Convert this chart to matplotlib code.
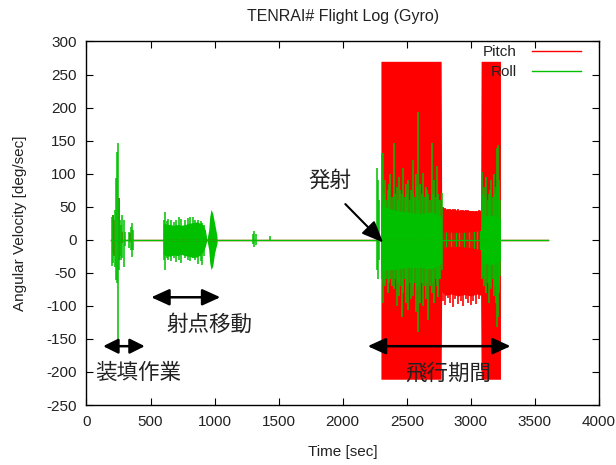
import matplotlib
matplotlib.use("Agg")
import matplotlib.pyplot as plt

plt.rcParams['font.family'] = ['Liberation Sans', 'Noto Sans CJK JP', 'DejaVu Sans']
plt.rcParams['axes.unicode_minus'] = False

RED = '#ff0000'
GREEN = '#00c000'
TXT = '#222222'

# whole log span (sec) - the zero line between the bursts
log_t = [195, 3605]
log_zero = [0, 0]

# ---- Pitch (red) ----
# short spikes: time, high, low
pitch_spike_t = [205, 215, 252, 275, 340,
                 2780, 2800, 2820, 2840, 2860, 2880, 2900, 2920, 2940, 2960, 2980,
                 3000, 3020, 3040, 3060]
pitch_spike_hi = [38, 30, 63, 12, 10,
                  49, 48, 47, 47, 46, 46, 46, 45, 45, 45, 45,
                  44, 44, 44, 45]
pitch_spike_lo = [-20, -25, -30, -5, -3,
                  -92, -99, -88, -96, -101, -90, -97, -93, -100, -89, -95,
                  -98, -92, -97, -90]

# flight envelope
pitch_env_t = [2298, 2400, 2500, 2600, 2700, 2768, 2772, 2800, 2850, 2900,
               2950, 3000, 3050, 3076, 3080, 3150, 3231]
pitch_env_hi = [270, 270, 270, 270, 270, 270, 50, 47, 46, 45,
                45, 44, 44, 45, 270, 270, 270]
pitch_env_lo = [-211, -211, -211, -211, -211, -211, -78, -84, -82, -85,
                -83, -85, -82, -84, -211, -211, -211]

# ---- Roll (green) ----
roll_spike_t = [200, 210, 220, 230, 238, 244, 250, 258, 268, 278, 290, 300, 330, 345, 356, 365,
                605, 613, 628, 640, 660, 685, 700, 720, 740, 765, 790, 810, 830, 850, 870, 890, 900, 915,
                1300, 1310, 1320, 1430,
                2267, 2272, 2280, 2305, 2313, 2322, 2330, 2340, 2350, 2360, 2370, 2385, 2402, 2410,
                2420, 2430, 2440, 2450, 2461, 2474, 2485, 2495, 2505, 2513, 2525, 2535, 2545, 2552,
                2560, 2570, 2578, 2586, 2595, 2605, 2615, 2630, 2640, 2650, 2660, 2669, 2680, 2695,
                2705, 2715, 2725, 2734, 2747, 2755, 2760, 2775,
                3085, 3092, 3100, 3110, 3120, 3130, 3140, 3150, 3160, 3170, 3180, 3188, 3195, 3202,
                3210, 3216, 3222, 3228]
roll_spike_hi = [35, 38, 45, 93, 133, 147, 60, 30, 22, 37, 30, 12, 12, 20, 25, 15,
                 30, 42, 28, 32, 30, 27, 30, 34, 32, 30, 33, 35, 35, 30, 30, 28, 25, 22,
                 8, 13, 8, 5,
                 108, 90, 60, 131, 131, 70, 90, 60, 75, 85, 100, 65, 146, 70,
                 80, 60, 95, 75, 70, 109, 65, 85, 70, 90, 60, 75, 70, 121,
                 65, 100, 80, 194, 60, 85, 70, 101, 65, 80, 75, 70, 60, 146,
                 70, 90, 65, 111, 70, 60, 60, 71,
                 103, 70, 80, 65, 95, 60, 70, 75, 90, 65, 100, 70, 80, 139,
                 143, 80, 90, 60]
roll_spike_lo = [-40, -35, -41, -61, -66, -165, -45, -25, -30, -28, -41, -10, -12, -15, -26, -15,
                 -30, -46, -28, -30, -32, -28, -33, -30, -35, -28, -30, -32, -28, -30, -36, -32, -38, -25,
                 -6, -11, -8, 0,
                 -46, -60, -30, -60, -96, -65, -70, -60, -80, -65, -60, -70, -75, -60,
                 -100, -65, -85, -70, -117, -80, -60, -95, -70, -107, -65, -90, -70, -85,
                 -65, -110, -75, -139, -70, -95, -65, -100, -70, -90, -65, -122, -70, -80,
                 -65, -95, -60, -70, -86, -60, -60, -46,
                 -60, -55, -70, -60, -80, -65, -96, -70, -75, -60, -85, -70, -96, -132,
                 -117, -80, -70, -55]

# pad move cluster (600-1020 sec)
roll_move_t = [598, 620, 650, 680, 710, 740, 770, 800, 830, 860, 890, 910, 928,
               940, 954, 962, 972, 985, 1000, 1019]
roll_move_hi = [25, 24, 23, 22, 23, 22, 23, 25, 26, 27, 25, 22, 15,
                0, 15, 35, 46, 40, 25, 5]
roll_move_lo = [-22, -24, -25, -23, -24, -22, -24, -25, -27, -26, -23, -18, -10,
                0, -15, -35, -45, -40, -20, -5]

# flight cluster
roll_env_t = [2298, 2330, 2400, 2500, 2600, 2700, 2768, 2780, 2900, 3000, 3076,
              3090, 3150, 3231]
roll_env_hi = [55, 50, 45, 42, 40, 42, 35, 12, 11, 12, 14, 35, 38, 32]
roll_env_lo = [-48, -46, -45, -42, -42, -44, -36, -11, -10, -12, -15, -35, -38, -32]

fig = plt.figure(figsize=(6.16, 4.65), dpi=100)
ax = fig.add_axes([0.1404, 0.129, 0.832, 0.7818])

# pitch
ax.plot(log_t, log_zero, color=RED, lw=1, label='Pitch')
ax.fill_between(pitch_env_t, pitch_env_lo, pitch_env_hi, color=RED, lw=0)
ax.vlines(pitch_spike_t, pitch_spike_lo, pitch_spike_hi, color=RED, lw=1.2)

# roll
ax.plot(log_t, log_zero, color=GREEN, lw=1, label='Roll')
ax.fill_between(roll_move_t, roll_move_lo, roll_move_hi, color=GREEN, lw=0)
ax.fill_between(roll_env_t, roll_env_lo, roll_env_hi, color=GREEN, lw=0)
ax.vlines(roll_spike_t, roll_spike_lo, roll_spike_hi, color=GREEN, lw=1.1)

ax.set_xlim(0, 4000)
ax.set_ylim(-250, 300)
ax.set_xticks(range(0, 4001, 500))
ax.set_yticks(range(-250, 301, 50))
ax.tick_params(direction='in', length=5, top=True, right=True, labelsize=11,
               labelcolor=TXT, pad=7)
for s in ax.spines.values():
    s.set_linewidth(1)

ax.set_title('TENRAI# Flight Log (Gyro)', fontsize=11.5, color=TXT, pad=15)
ax.set_xlabel('Time [sec]', fontsize=11, color=TXT, labelpad=12)
ax.set_ylabel('Angular Velocity [deg/sec]', fontsize=11, color=TXT, labelpad=14)

leg = ax.legend(loc='upper right', markerfirst=False, frameon=False, fontsize=11,
                handlelength=3.2, handletextpad=1.0, labelspacing=0.4,
                borderaxespad=0.3, bbox_to_anchor=(0.985, 1.02))
for t in leg.get_texts():
    t.set_color(TXT)

# annotations
jp = dict(fontsize=15.5, color=TXT, family=['Noto Sans CJK JP', 'DejaVu Sans'])
ax.text(1735, 89, '発射', va='center', ha='left', **jp)
ax.annotate('', xy=(2330, -7), xytext=(2005, 57),
            arrowprops=dict(arrowstyle='-|>,head_length=1.3,head_width=0.55',
                            color='black', lw=1.5, mutation_scale=10))

dbl = dict(arrowstyle='<|-|>,head_length=1.1,head_width=0.5', color='black',
           lw=1.8, mutation_scale=10, shrinkA=0, shrinkB=0)
ax.annotate('', xy=(505, -87), xytext=(1045, -87), arrowprops=dbl)
ax.text(960, -129, '射点移動', va='center', ha='center', **jp)
dbl_s = dict(dbl, arrowstyle='<|-|>,head_length=0.9,head_width=0.45')
ax.annotate('', xy=(130, -161), xytext=(455, -161), arrowprops=dbl_s)
ax.text(405, -202, '装填作業', va='center', ha='center', **jp)
ax.annotate('', xy=(2195, -161), xytext=(3310, -161), arrowprops=dbl)
ax.text(2825, -202, '飛行期間', va='center', ha='center', **jp)

fig.savefig('out.png', dpi=100)
